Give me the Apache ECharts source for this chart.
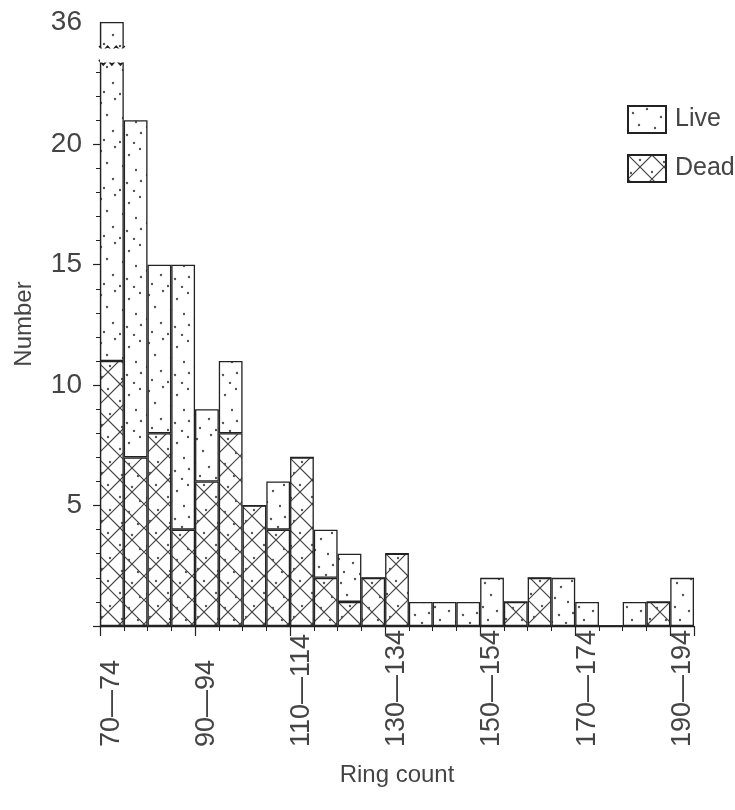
<!DOCTYPE html>
<html>
<head>
<meta charset="utf-8">
<script src="https://cdn.jsdelivr.net/npm/echarts@6/dist/echarts.min.js"></script>
<style>html,body{margin:0;padding:0;background:#fff}#c{width:735px;height:810px}</style>
</head>
<body>
<div id="c"></div>
<script>
// ---- data ----
const categories = ['70—74','75—79','80—84','85—89','90—94','95—99','100—104','105—109',
  '110—114','115—119','120—124','125—129','130—134','135—139','140—144','145—149',
  '150—154','155—159','160—164','165—169','170—174','175—179','180—184','185—189','190—194'];
const deadCounts = [11,7,8,4,6,8,5,4,7,2,1,2,3,0,0,0,0,1,2,0,0,0,0,1,0];
const liveCounts = [25,14,7,11,3,3,0,2,0,2,2,0,0,1,1,1,2,0,0,2,1,0,1,0,2];
const yTickLabels = [5,10,15,20,36];
const yMajorTicks = [0,5,10,15,20];
const yBreak = {start: 23.4, end: 34.9};

// ---- styles ----
const FONT = 'Liberation Sans';
const TXT = '#444';
const INK = '#222';

const yMinorTicks = [];
for (let v = 0; v < yBreak.start; v++) yMinorTicks.push(v);

function makePattern(withHatch) {
  const s = 48;
  const c = document.createElement('canvas');
  c.width = s; c.height = s;
  const g = c.getContext('2d');
  g.fillStyle = '#fff';
  g.fillRect(0, 0, s, s);
  if (withHatch) {
    g.strokeStyle = '#444';
    g.lineWidth = 1.2;
    g.beginPath();
    for (let k = -48; k <= 48; k += 24) {
      g.moveTo(k, 0); g.lineTo(k + 48, 48);
      g.moveTo(k, 48); g.lineTo(k + 48, 0);
    }
    g.stroke();
  }
  const dots = withHatch
    ? [[12,5],[36,7],[3,18],[24,17],[44,21],[14,30],[33,32],[6,41],[26,43],[42,44]]
    : [[5,7],[19,3],[33,11],[44,5],[11,19],[27,22],[40,26],[3,31],[17,35],[31,39],[45,37],[8,44],[24,46],[38,47]];
  g.fillStyle = '#555';
  dots.forEach(([x, y]) => { g.beginPath(); g.arc(x, y, 1.2, 0, Math.PI * 2); g.fill(); });
  return {image: c, repeat: 'repeat'};
}
const livePattern = makePattern(false);
const deadPattern = makePattern(true);

const brokenBins = categories.map((c, i) => i)
  .filter(i => deadCounts[i] + liveCounts[i] > yBreak.start)
  .map(i => [i, deadCounts[i] + liveCounts[i]]);

const yBase = {
  type: 'value',
  min: 0, max: 36,
  position: 'left',
  breaks: [{start: yBreak.start, end: yBreak.end, gap: '2.3%'}],
  splitLine: {show: false}
};

const chart = echarts.init(document.getElementById('c'), null, {renderer: 'canvas'});
chart.setOption({
  animation: false,
  backgroundColor: '#fff',
  grid: {left: 100, right: 41, top: 22, bottom: 184},
  legend: {
    data: ['Live', 'Dead'],
    orient: 'vertical',
    left: 622, top: 100,
    itemWidth: 38, itemHeight: 27, itemGap: 20,
    icon: 'rect',
    selectedMode: false,
    textStyle: {fontFamily: FONT, fontSize: 25, color: TXT, padding: [0, 0, 0, 4]}
  },
  xAxis: [{
    type: 'category',
    data: categories,
    boundaryGap: true,
    position: 'bottom',
    axisLine: {show: true, lineStyle: {color: INK, width: 1.3}},
    axisTick: {show: true, interval: 3, length: 10, lineStyle: {color: INK, width: 1.2}},
    axisLabel: {
      interval: 3, rotate: 90, align: 'left', margin: 121,
      fontFamily: FONT, fontSize: 27, color: TXT
    },
    name: 'Ring count', nameLocation: 'middle', nameGap: 137,
    nameTextStyle: {fontFamily: FONT, fontSize: 24, color: TXT}
  }, {
    type: 'category',
    data: categories,
    boundaryGap: true,
    position: 'bottom',
    axisLine: {show: false},
    axisTick: {show: true, interval: 0, length: 5, lineStyle: {color: INK, width: 1}},
    axisLabel: {show: false}
  }],
  yAxis: [Object.assign({}, yBase, {
    breakArea: {
      show: true,
      expandOnClick: false,
      zigzagAmplitude: 0,
      itemStyle: {color: '#fff', borderColor: '#fff', borderWidth: 0, opacity: 1}
    },
    axisLine: {show: true, lineStyle: {color: INK, width: 1.3}},
    axisTick: {show: true, customValues: yMajorTicks, length: 7, lineStyle: {color: INK, width: 1.2}},
    axisLabel: {
      customValues: yTickLabels,
      fontFamily: FONT, fontSize: 28, color: TXT, margin: 18
    },
    name: 'Number', nameLocation: 'middle', nameGap: 64,
    nameTextStyle: {fontFamily: FONT, fontSize: 24, color: TXT}
  }), Object.assign({}, yBase, {
    breakArea: {show: false},
    axisLine: {show: false},
    axisTick: {show: true, customValues: yMinorTicks, length: 4, lineStyle: {color: INK, width: 1}},
    axisLabel: {show: false}
  })],
  series: [{
    name: 'Dead', type: 'bar', stack: 'n',
    data: deadCounts,
    barCategoryGap: '0%',
    itemStyle: {color: deadPattern, borderColor: INK, borderWidth: 1.3},
    z: 2
  }, {
    name: 'Live', type: 'bar', stack: 'n',
    data: liveCounts,
    barCategoryGap: '0%',
    itemStyle: {color: livePattern, borderColor: INK, borderWidth: 1.3},
    z: 2
  }, {
    name: 'break', type: 'custom',
    coordinateSystem: 'cartesian2d',
    data: brokenBins,
    encode: {x: 0, y: 1},
    silent: true,
    z: 50,
    renderItem: function (params, api) {
      const idx = api.value(0);
      const lo = api.coord([idx, yBreak.start]);
      const hi = api.coord([idx, yBreak.end]);
      const w = api.size([1, 0])[0];
      const x0 = lo[0] - w / 2 - 1, x1 = lo[0] + w / 2 + 1;
      const zig = (y) => {
        const pts = [];
        const n = 6;
        for (let k = 0; k <= n; k++) pts.push([x0 + (x1 - x0) * k / n, y + (k % 2 ? 2.5 : -2.5)]);
        return pts;
      };
      const bottom = zig(lo[1]);
      const top = zig(hi[1]);
      return {
        type: 'group',
        children: [
          {type: 'polygon', shape: {points: top.concat(bottom.slice().reverse())}, style: {fill: '#fff', stroke: null}},
          {type: 'polyline', shape: {points: top}, style: {stroke: INK, lineWidth: 1.3, fill: null}},
          {type: 'polyline', shape: {points: bottom}, style: {stroke: INK, lineWidth: 1.8, fill: null}}
        ]
      };
    }
  }]
});
</script>
</body>
</html>
